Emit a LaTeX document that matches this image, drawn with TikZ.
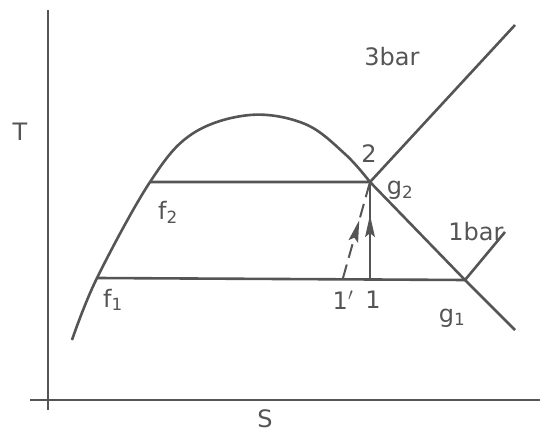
\documentclass[tikz,border=0pt]{standalone}
\usepackage{fontspec}
\setmainfont{DejaVu Sans}
\usepackage{tikz}
\usetikzlibrary{arrows.meta, decorations.markings}

\definecolor{ink}{HTML}{555555}

\tikzset{
  curve/.style={ink, line width=2.6pt, line join=round},
  lbl/.style={ink, font=\fontsize{24}{26}\selectfont, inner sep=1pt},
  midarrow/.style={postaction={decorate}, decoration={markings,
      mark=at position #1 with {\fill[ink] (10pt,0pt) -- (-12pt,5pt) -- (-8pt,0pt) -- (-12pt,-5pt) -- cycle;}}}
}

\begin{document}
\begin{tikzpicture}[x=1pt, y=-1pt]
        \useasboundingbox (0,0) rectangle (548,435);

        % Axes
        \draw[ink, line width=2pt] (48,10) -- (48,410);
        \draw[ink, line width=2pt] (30,400) -- (540,400);
        \node[lbl] (T) at (20,132) {T};
        \node[lbl] (S) at (265,419) {S};

        % Define points on the dome
        \coordinate (f1) at (97,278);
        \coordinate (f2) at (150,182);
        \coordinate (g2) at (370,182);
        \coordinate (g1) at (465,280);

        % Saturation dome
        \draw[curve] plot[smooth, tension=0.6] coordinates {(72,340) (f1) (f2) (192,134) (250,115) (305,124) (345,154) (g2)}
              -- (g1) -- (515,330);

        % Isobars
        \coordinate (top3) at (515,25);
        \coordinate (top1) at (505,232);
        \draw[curve] (f2) -- (g2) -- (top3);
        \draw[curve] (f1) -- (g1) -- (top1);

        % Compression: ideal and real
        \coordinate (p1) at (370,278);
        \coordinate (p1r) at (343,278);
        \draw[curve, line width=2pt, midarrow=0.55] (p1) -- (g2);
        \draw[curve, line width=2pt, dash pattern=on 14pt off 7pt, midarrow=0.5] (p1r) -- (g2);

        % Labels
        \node[lbl] (l3) at (392,57) {3bar};
        \node[lbl] (l1) at (476,232) {1bar};
        \node[lbl] (n2) at (369,154) {2};
        \node[lbl] (ng2) at (400,190) {g\textsubscript{2}};
        \node[lbl] (nf2) at (168,212) {f\textsubscript{2}};
        \node[lbl] (nf1) at (113,300) {f\textsubscript{1}};
        \node[lbl] (ng1) at (452,318) {g\textsubscript{1}};
        \node[lbl] (n1r) at (343,300) {1$'$};
        \node[lbl] (n1) at (373,300) {1};
    \end{tikzpicture}
\end{document}
